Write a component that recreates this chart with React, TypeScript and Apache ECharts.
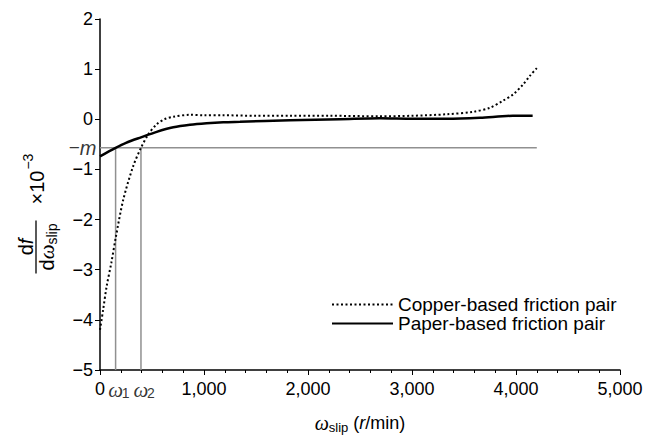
import React, { useEffect, useRef } from 'react';
import * as echarts from 'echarts';

// ---- data ----
const copperX = [0, 30, 64, 110, 154, 224, 320, 394, 465, 545, 620, 705, 865, 1000, 1185, 1500, 1827, 2200, 2690, 3000, 3333, 3590, 3750, 3875, 3975, 4070, 4135, 4200];
const copperY = [-4.2, -3.8, -3.33, -2.85, -2.33, -1.6, -0.93, -0.57, -0.3, -0.1, 0.0, 0.05, 0.09, 0.08, 0.08, 0.07, 0.07, 0.07, 0.06, 0.07, 0.1, 0.15, 0.23, 0.37, 0.5, 0.7, 0.87, 1.02];
const paperX = [0, 150, 250, 394, 545, 705, 865, 1025, 1185, 1346, 1827, 2308, 2690, 3010, 3336, 3654, 3970, 4160];
const paperY = [-0.74, -0.57, -0.47, -0.36, -0.25, -0.16, -0.11, -0.08, -0.06, -0.05, -0.02, 0.0, 0.02, 0.01, 0.01, 0.03, 0.07, 0.07];
const negM = -0.57;
const omegaX = [150, 394];
const omegaSub = ['1', '2'];
const refLineEnd = 4200;
const seriesNames = ['Copper-based friction pair', 'Paper-based friction pair'];
const xRange = [0, 5000];
const xInterval = 1000;
const yRange = [-5, 2];
const yInterval = 1;

const SANS = '"Liberation Sans", Arial, sans-serif';
const SERIF = '"Liberation Serif", "Times New Roman", serif';

function measure(text: string, font: string): number {
  const c = document.createElement('canvas').getContext('2d');
  if (!c) return text.length * 9;
  c.font = font;
  return c.measureText(text).width;
}

export default function App() {
  const ref = useRef<HTMLDivElement>(null);
  useEffect(() => {
    if (!ref.current) return;
    const chart = echarts.init(ref.current, null, { renderer: 'svg' });

    const txt = (x: number, y: number, text: string, font: string) => ({
      type: 'text', x, y,
      style: { text, font, fill: '#000', align: 'left', verticalAlign: 'middle' },
    });

    // ---- y title (rotated fraction) ----
    const FS = 20, SUB = 14;
    const fMain = `${FS}px ${SANS}`;
    const fItal = `italic ${FS}px ${SANS}`;
    const fOm = `italic ${FS + 1}px ${SERIF}`;
    const fSub = `${SUB}px ${SANS}`;
    const wd = measure('d', fMain);
    const wf = measure('f', fItal);
    const ww = measure('ω', fOm);
    const ws = measure('slip', fSub);
    const N = wd + wf;
    const D = wd + ww + ws;
    const L = Math.max(N, D) + 6;
    const cF = -38;
    const wTimes = measure('×10', fMain);
    const tStart = cF + L / 2 + 16;
    const yTitle = {
      type: 'group', x: 36, y: 209, rotation: Math.PI / 2, silent: true,
      children: [
        txt(cF - N / 2, -10.5, 'd', fMain),
        txt(cF - N / 2 + wd, -10.5, 'f', fItal),
        { type: 'line', shape: { x1: cF - L / 2, y1: 0, x2: cF + L / 2, y2: 0 }, style: { stroke: '#000', lineWidth: 1.3 } },
        txt(cF - D / 2, 10.5, 'd', fMain),
        txt(cF - D / 2 + wd, 11, 'ω', fOm),
        txt(cF - D / 2 + wd + ww, 15.5, 'slip', fSub),
        txt(tStart, 1, '×10', fMain),
        txt(tStart + wTimes + 1, -8.5, '\u22123', `14px ${SANS}`),
      ],
    };

    // ---- x title ----
    const fXMain = `18px ${SANS}`;
    const fXItal = `italic 18px ${SANS}`;
    const fXOm = `italic 20px ${SERIF}`;
    const fXSub = `13px ${SANS}`;
    const xw = measure('ω', fXOm);
    const xs = measure('slip', fXSub);
    const xp1 = measure(' (', fXMain);
    const xr = measure('r', fXItal);
    const xp2 = measure('/min)', fXMain);
    const xTot = xw + xs + xp1 + xr + xp2;
    const x0 = 360 - xTot / 2;
    const xTitle = {
      type: 'group', x: x0, y: 0, silent: true,
      children: [
        txt(0, 422.5, 'ω', fXOm),
        txt(xw, 427, 'slip', fXSub),
        txt(xw + xs, 422.5, ' (', fXMain),
        txt(xw + xs + xp1, 422.5, 'r', fXItal),
        txt(xw + xs + xp1 + xr, 422.5, '/min)', fXMain),
      ],
    };

    const gray = '#909090';
    const option: any = {
      animation: false,
      backgroundColor: '#fff',
      textStyle: { fontFamily: SANS },
      grid: { left: 100, right: 38, top: 19, bottom: 66, containLabel: false, outerBoundsMode: 'none' },
      legend: {
        data: seriesNames,
        orient: 'vertical',
        left: 331,
        top: 295,
        padding: 0,
        itemWidth: 61,
        itemHeight: 14,
        itemGap: 0,
        itemStyle: { opacity: 0 },
        textStyle: { fontSize: 19, color: '#000', fontFamily: SANS, lineHeight: 18 },
        selectedMode: false,
      },
      xAxis: {
        type: 'value',
        min: xRange[0],
        max: xRange[1],
        interval: xInterval,
        splitLine: { show: false },
        axisLine: { onZero: false, lineStyle: { color: '#000', width: 1.5 } },
        axisTick: { show: true, length: 5, lineStyle: { color: '#000', width: 1 } },
        minorTick: { show: true, splitNumber: 5, length: 3, lineStyle: { color: '#000', width: 1 } },
        axisLabel: {
          fontSize: 18, color: '#000', fontFamily: SANS, margin: 10,
          formatter: (v: number) => v.toLocaleString('en-US'),
        },
      },
      yAxis: {
        type: 'value',
        min: yRange[0],
        max: yRange[1],
        interval: yInterval,
        splitLine: { show: false },
        axisLine: { show: true, onZero: false, lineStyle: { color: '#000', width: 1.5 } },
        axisTick: { show: true, length: 5, lineStyle: { color: '#000', width: 1 } },
        axisLabel: {
          fontSize: 18, color: '#000', fontFamily: SANS, margin: 7,
          formatter: (v: number) => (v < 0 ? '\u2212' + Math.abs(v) : String(v)),
        },
      },
      graphic: [yTitle, xTitle],
      series: [
        {
          name: 'mLine', type: 'line', silent: true, symbol: 'none',
          data: [[xRange[0], negM], [refLineEnd, negM]],
          lineStyle: { color: gray, width: 1.5 },
        },
        ...omegaX.map((w, i) => ({
          name: 'omega' + i, type: 'line', silent: true, symbol: 'none',
          data: [[w, negM], [w, yRange[0]]],
          lineStyle: { color: gray, width: 1.5 },
        })),
        {
          name: seriesNames[0], type: 'line', symbol: 'none', smooth: 0.3,
          data: copperX.map((x, i) => [x, copperY[i]]),
          lineStyle: { color: '#000', width: 2, type: [2, 2.5] },
          itemStyle: { color: '#000' },
          z: 3,
        },
        {
          name: seriesNames[1], type: 'line', symbol: 'none', smooth: 0.3,
          data: paperX.map((x, i) => [x, paperY[i]]),
          lineStyle: { color: '#000', width: 2.5 },
          itemStyle: { color: '#000' },
          z: 4,
        },
        {
          name: 'mLabel', type: 'scatter', silent: true, symbolSize: 1, clip: false,
          itemStyle: { color: 'rgba(0,0,0,0)' },
          data: [[xRange[0], negM]],
          label: {
            show: true, position: 'left', distance: 3,
            formatter: '{a|\u2212}{b|m}',
            rich: {
              a: { fontSize: 19, fontFamily: SANS, color: '#000' },
              b: { fontSize: 20, fontFamily: SANS, fontStyle: 'italic', color: '#000' },
            },
          },
        },
        {
          name: 'omegaLabel', type: 'scatter', silent: true, symbolSize: 1, clip: false,
          itemStyle: { color: 'rgba(0,0,0,0)' },
          data: omegaX.map((w) => [w, yRange[0]]),
          label: {
            show: true, position: 'bottom', distance: 9,
            formatter: 'ω',
            fontSize: 21, fontFamily: SERIF, fontStyle: 'italic', color: '#000',
          },
        },
        {
          name: 'omegaSubLabel', type: 'scatter', silent: true, symbolSize: 1, clip: false,
          itemStyle: { color: 'rgba(0,0,0,0)' },
          data: omegaX.map((w, i) => ({ value: [w, yRange[0]], name: omegaSub[i] })),
          label: {
            show: true, position: 'bottom', distance: 15, offset: [10, 0],
            formatter: (p: any) => p.name,
            fontSize: 14, fontFamily: SANS, color: '#000',
          },
        },
      ],
    };
    chart.setOption(option);
    return () => chart.dispose();
  }, []);
  return (
    <div
      ref={ref}
      style={{ position: 'fixed', left: 0, top: 0, width: 658, height: 436, background: '#fff' }}
    />
  );
}
